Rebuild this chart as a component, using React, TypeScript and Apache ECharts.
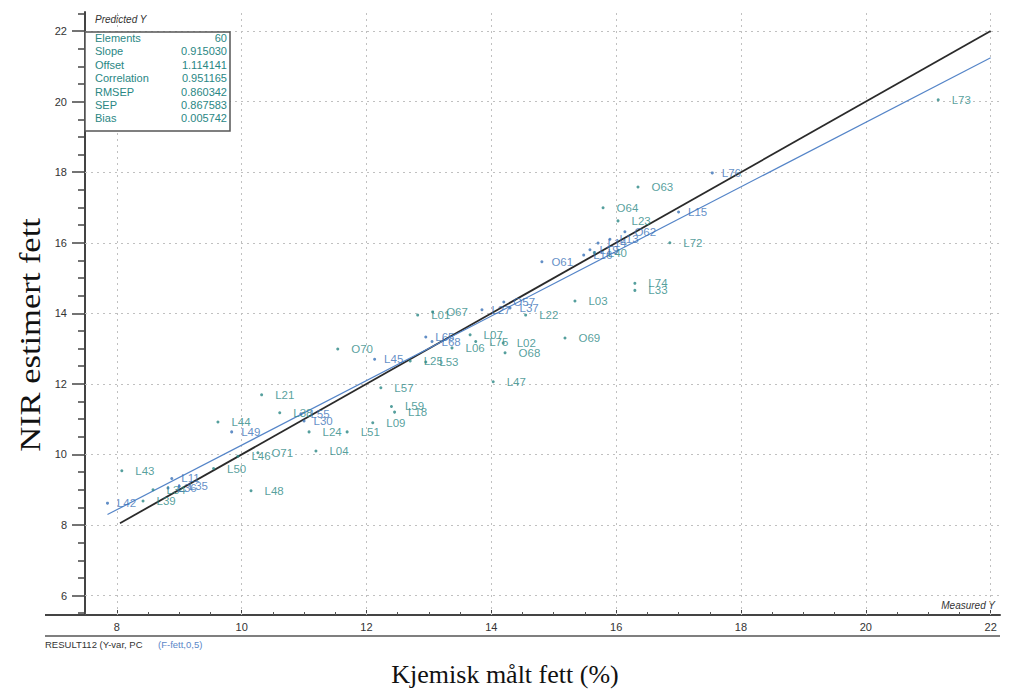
import React, { useEffect, useRef } from "react";
import * as echarts from "echarts";

// ---- data ----
const pointNames = [
  "L43", "L42", "L39", "L11", "L36", "L35", "L34", "L50", "L46", "O71",
  "L48", "L04", "L24", "L51", "L09", "L59", "L18", "L57", "L44", "L49",
  "L21", "L55", "L30", "L38", "O70", "L45", "L25", "L53", "L65", "L68",
  "L06", "L07", "L75", "L02", "O68", "L47", "O69", "L03", "L22", "L01",
  "O67", "O57", "L37", "L27", "O63", "O64", "L23", "L15", "O62", "L72",
  "L74", "L33", "L76", "L73", "O61", "L16", "L19", "L14", "L13", "L40",
];
const measuredY = [
  8.08, 7.85, 8.42, 8.88, 8.82, 9.0, 8.58, 9.55, 9.94, 10.26,
  10.15, 11.19, 11.08, 11.69, 12.1, 12.4, 12.45, 12.23, 9.62, 9.84,
  10.32, 10.95, 11.0, 10.61, 11.54, 12.13, 12.7, 12.95, 12.95, 13.05,
  13.37, 13.66, 13.75, 14.19, 14.22, 14.03, 15.18, 15.34, 14.55, 12.82,
  13.06, 14.2, 14.3, 13.85, 16.35, 15.79, 16.03, 17.0, 16.14, 16.86,
  16.3, 16.3, 17.54, 21.16, 14.81, 15.48, 15.58, 15.71, 15.9, 15.65,
];
const predictedY = [
  9.54, 8.62, 8.68, 9.32, 9.05, 9.1, 9.0, 9.6, 9.95, 10.05,
  8.97, 10.1, 10.64, 10.64, 10.9, 11.36, 11.2, 11.89, 10.92, 10.64,
  11.69, 11.15, 10.95, 11.18, 12.99, 12.7, 12.65, 12.62, 13.33, 13.2,
  13.02, 13.39, 13.2, 13.16, 12.88, 12.06, 13.3, 14.35, 13.95, 13.95,
  14.04, 14.32, 14.15, 14.1, 17.58, 16.99, 16.62, 16.87, 16.31, 16.0,
  14.85, 14.65, 17.98, 20.05, 15.46, 15.65, 15.8, 15.99, 16.1, 15.72,
];
// samples whose labels are drawn in blue (those on the fitted lines)
const blueNames = [
  "L42", "L11", "L36", "L35", "L49", "L55", "L30", "L45", "L65", "L68",
  "O57", "L37", "L27", "L15", "O62", "L76", "O61", "L16", "L19", "L14", "L13",
];

const statNames = ["Elements", "Slope", "Offset", "Correlation", "RMSEP", "SEP", "Bias"];
const statValues = ["60", "0.915030", "1.114141", "0.951165", "0.860342", "0.867583", "0.005742"];
const slope = 0.91503;
const offset = 1.114141;

const xTickLabels = [8, 10, 12, 14, 16, 18, 20, 22];
const yTickLabels = [6, 8, 10, 12, 14, 16, 18, 20, 22];
const targetLineX = [8.05, 22];
const regressionLineX = [7.85, 22];

const XMIN = 7.49, XMAX = 22.15, YMIN = 5.45, YMAX = 22.54;

const TEAL = "#2a8784";
const BLUE = "#3a72b8";

export default function App() {
  const ref = useRef<HTMLDivElement>(null);
  useEffect(() => {
    if (!ref.current) return;
    const chart = echarts.init(ref.current, null, { renderer: "svg" });

    const xMinor: number[] = [];
    for (let v = 7.5; v <= 22.01; v += 0.5) if (Math.abs(v % 2) > 0.01) xMinor.push(v);
    const yMinor: number[] = [];
    for (let v = 5.5; v <= 22.51; v += 0.5) if (Math.abs(v % 2) > 0.01) yMinor.push(v);

    const teal: any[] = [];
    const blue: any[] = [];
    pointNames.forEach((n, i) => {
      const d = { name: n, value: [measuredY[i], predictedY[i]] };
      if (blueNames.includes(n)) blue.push(d);
      else teal.push(d);
    });

    const labelFont = { fontFamily: "Liberation Sans, Arial, sans-serif", fontSize: 11.5 };
    const statFont = "11px Liberation Sans, Arial, sans-serif";

    const statTexts: any[] = [];
    statNames.forEach((s, i) => {
      statTexts.push({
        type: "text", x: 95, y: 38 + i * 13.4,
        style: { text: s, fill: TEAL, font: statFont, verticalAlign: "middle" },
        z: 101,
      });
      statTexts.push({
        type: "text", x: 227, y: 38 + i * 13.4,
        style: { text: statValues[i], fill: TEAL, font: statFont, align: "right", verticalAlign: "middle" },
        z: 101,
      });
    });

    const axisFont = { fontFamily: "Liberation Sans, Arial, sans-serif", fontSize: 11, color: "#333" };

    chart.setOption({
      animation: false,
      backgroundColor: "#ffffff",
      grid: { left: 85, right: 10, top: 12, bottom: 78 },
      xAxis: [
        {
          type: "value", min: XMIN, max: XMAX,
          axisLine: { show: true, lineStyle: { color: "#444", width: 2 } },
          axisTick: { show: true, inside: true, length: 5, customValues: xTickLabels, lineStyle: { color: "#444" } },
          axisLabel: { customValues: xTickLabels, margin: 6, ...axisFont },
          splitLine: { show: false },
        },
        {
          type: "value", min: XMIN, max: XMAX, position: "bottom",
          axisLine: { show: false },
          axisTick: { show: true, inside: true, length: 3, customValues: xMinor, lineStyle: { color: "#555" } },
          axisLabel: { show: false },
          splitLine: { show: false },
        },
      ],
      yAxis: [
        {
          type: "value", min: YMIN, max: YMAX,
          axisLine: { show: true, lineStyle: { color: "#444", width: 2 } },
          axisTick: { show: true, length: 13, customValues: yTickLabels, lineStyle: { color: "#444", width: 1.5 } },
          axisLabel: { customValues: yTickLabels, margin: 18, ...axisFont },
          splitLine: { show: false },
        },
        {
          type: "value", min: YMIN, max: YMAX, position: "left",
          axisLine: { show: false },
          axisTick: { show: true, length: 7, customValues: yMinor, lineStyle: { color: "#444", width: 1.5 } },
          axisLabel: { show: false },
          splitLine: { show: false },
        },
      ],
      series: [
        {
          type: "line", name: "target", xAxisIndex: 0, yAxisIndex: 0,
          data: targetLineX.map((x) => [x, x]),
          symbol: "none", lineStyle: { color: "#2a2a2a", width: 1.8 }, z: 5,
          markLine: {
            silent: true, symbol: "none", label: { show: false },
            lineStyle: { type: [2, 4], color: "#c0c0c0", width: 1 },
            data: [
              ...xTickLabels.map((v) => ({ xAxis: v })),
              ...yTickLabels.map((v) => ({ yAxis: v })),
            ],
            z: 1,
          },
        },
        {
          type: "line", name: "regression", xAxisIndex: 0, yAxisIndex: 0,
          data: regressionLineX.map((x) => [x, slope * x + offset]),
          symbol: "none", lineStyle: { color: "#5585c8", width: 1.2 }, z: 5,
        },
        {
          type: "scatter", name: "samples", xAxisIndex: 0, yAxisIndex: 0,
          data: teal, symbol: "circle", symbolSize: 3,
          itemStyle: { color: TEAL },
          label: { show: true, position: "right", distance: 12, formatter: "{b}", color: TEAL, ...labelFont },
          z: 6,
        },
        {
          type: "scatter", name: "samples on line", xAxisIndex: 0, yAxisIndex: 0,
          data: blue, symbol: "circle", symbolSize: 3,
          itemStyle: { color: BLUE },
          label: { show: true, position: "right", distance: 8, formatter: "{b}", color: BLUE, ...labelFont },
          z: 6,
        },
      ],
      graphic: [
        { type: "line", shape: { x1: 45, y1: 615, x2: 86, y2: 615 }, style: { stroke: "#444", lineWidth: 2 } },
        { type: "line", shape: { x1: 45, y1: 636, x2: 1000, y2: 636 }, style: { stroke: "#555", lineWidth: 1.5 } },
        {
          type: "rect", shape: { x: 85, y: 32, width: 145, height: 99 },
          style: { fill: "#ffffff", stroke: "#555", lineWidth: 1.5 }, z: 100,
        },
        ...statTexts,
        {
          type: "text", x: 95, y: 19,
          style: { text: "Predicted Y", fill: "#333", font: "italic 10px Liberation Sans, Arial, sans-serif", verticalAlign: "middle" },
        },
        {
          type: "text", x: 995, y: 605,
          style: { text: "Measured Y", fill: "#333", font: "italic 10px Liberation Sans, Arial, sans-serif", align: "right", verticalAlign: "middle" },
        },
        {
          type: "text", x: 45, y: 644,
          style: { text: "RESULT112 (Y-var, PC ", fill: "#333", font: "9.5px Liberation Sans, Arial, sans-serif", verticalAlign: "middle" },
        },
        {
          type: "text", x: 158, y: 644,
          style: { text: "(F-fett,0,5)", fill: "#5a86c8", font: "9.5px Liberation Sans, Arial, sans-serif", verticalAlign: "middle" },
        },
        {
          type: "text", x: 505, y: 674,
          style: { text: "Kjemisk målt fett (%)", fill: "#111", font: "26px Liberation Serif, Times New Roman, serif", align: "center", verticalAlign: "middle" },
        },
        {
          type: "text", x: 30, y: 335, rotation: Math.PI / 2, scaleX: 1.15,
          style: { text: "NIR estimert fett", fill: "#111", font: "30px Liberation Serif, Times New Roman, serif", align: "center", verticalAlign: "middle" },
        },
      ],
    });
    return () => chart.dispose();
  }, []);
  return (
    <div
      ref={ref}
      style={{ position: "fixed", left: 0, top: 0, width: 1010, height: 693, background: "#fff" }}
    />
  );
}
